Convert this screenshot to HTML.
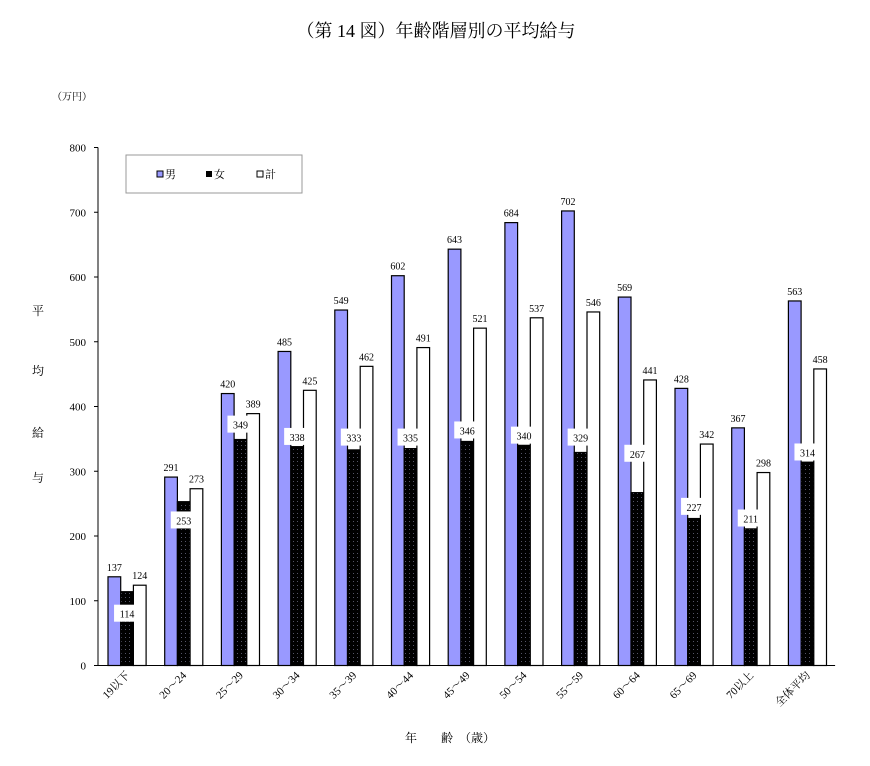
<!DOCTYPE html>
<html><head><meta charset="utf-8"><style>
body{margin:0;background:#fff}
svg text{font-family:"Liberation Serif","Noto Serif CJK SC","Noto Sans CJK JP",serif;fill:#000}
</style></head><body>
<svg id="c" width="870" height="761" xmlns="http://www.w3.org/2000/svg">
<defs><pattern id="dots" width="4" height="4" patternUnits="userSpaceOnUse"><rect width="4" height="4" fill="#000"/><rect x="1" y="1" width="1" height="1" fill="#556"/></pattern></defs>
<text x="436" y="37" font-size="18" text-anchor="middle">（第 14 図）年齢階層別の平均給与</text>
<text x="52" y="100" font-size="10">（万円）</text>
<g font-size="12">
<text x="38" y="315" text-anchor="middle">平</text><text x="38" y="375" text-anchor="middle">均</text><text x="38" y="437" text-anchor="middle">給</text><text x="38" y="482" text-anchor="middle">与</text></g>
<text x="450" y="742" font-size="12" text-anchor="middle">年　　齢　（歳）</text>
<g id="g"></g>
<g>
<rect x="126" y="155" width="176" height="38" fill="#fff" stroke="#999"/>
<rect x="157" y="171" width="6" height="6" fill="#9999ff" stroke="#000"/><text x="165" y="178" font-size="11">男</text>
<rect x="206" y="171" width="6" height="6" fill="#000"/><text x="214" y="178" font-size="11">女</text>
<rect x="257" y="171" width="6" height="6" fill="#fff" stroke="#000"/><text x="265" y="178" font-size="11">計</text>
</g>
</svg>
<script>
const categories=["19以下","20～24","25～29","30～34","35～39","40～44","45～49","50～54","55～59","60～64","65～69","70以上","全体平均"];
const male=[137,291,420,485,549,602,643,684,702,569,428,367,563];
const female=[114,253,349,338,333,335,346,340,329,267,227,211,314];
const total=[124,273,389,425,462,491,521,537,546,441,342,298,458];
const femaleLabelShift=[-34,-29,23,15,19,17,17,15,23,60,18,16,15];
const yTicks=[0,100,200,300,400,500,600,700,800];
const NS="http://www.w3.org/2000/svg",g=document.getElementById('g');
const X0=98,GW=56.7,BW=12.7;
const y=v=>665.5-v*0.6475;
const gx=i=>X0+i*GW;
function mk(t,a,txt){const e=document.createElementNS(NS,t);for(const k in a)e.setAttribute(k,a[k]);if(txt!=null)e.textContent=txt;g.appendChild(e);return e;}
yTicks.forEach(v=>{
 const l=mk('line',{x1:X0-4,x2:X0,y1:y(v),y2:y(v),stroke:'#000'});
 
 
 const t=mk('text',{x:X0-12,y:y(v)+4,'font-size':11,'text-anchor':'end'},v);
 
 
});
categories.forEach((c,i)=>{
 const b=gx(i)+10;
 const series=[[male[i],'#9999ff','male'],[female[i],'url(#dots)','female'],[total[i],'#fff','total']];
 series.forEach((s,j)=>{
  const r=mk('rect',{x:b+j*BW,y:y(s[0]),width:BW,height:y(0)-y(s[0]),fill:s[1],stroke:'#000','stroke-width':1.2});
  
  
 });
 const tm=mk('text',{x:b+BW/2,y:y(male[i])-6,'font-size':10,'text-anchor':'middle'},male[i]);
 
 
 const tt=mk('text',{x:b+2.5*BW,y:y(total[i])-6,'font-size':10,'text-anchor':'middle'},total[i]);
 
 
 const fy=y(female[i]+femaleLabelShift[i]);
 const bx=mk('rect',{x:b+BW*1.5-13,y:fy-9,width:26,height:17,fill:'#fff'});
 
 
 const tf=mk('text',{x:b+BW*1.5,y:fy+4,'font-size':10,'text-anchor':'middle'},female[i]);
 
 
 const cx=gx(i)+GW/2+4;
 const tl=mk('text',{x:cx,y:676,'font-size':11,'text-anchor':'end',transform:`rotate(-45 ${cx} 676)`},c);
 
 
});
const ax=mk('line',{x1:X0,x2:X0,y1:y(800),y2:y(0),stroke:'#000'});


const xa=mk('line',{x1:X0,x2:X0+13*GW,y1:y(0),y2:y(0),stroke:'#000'});


</script>
</body></html>
